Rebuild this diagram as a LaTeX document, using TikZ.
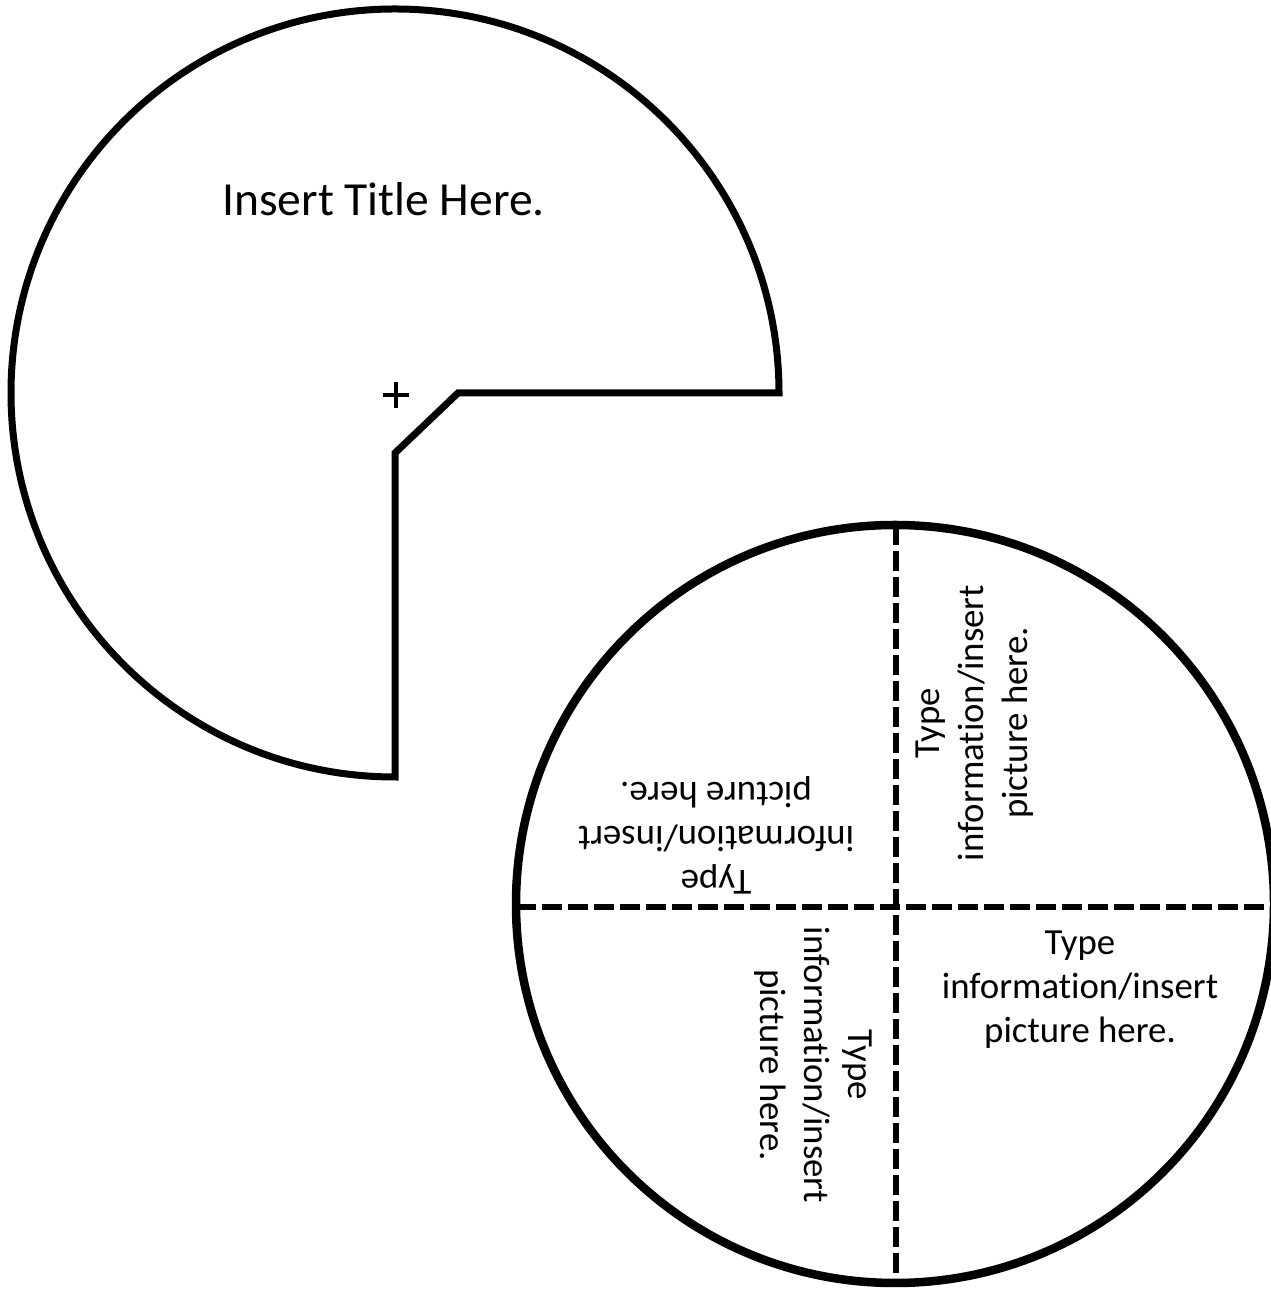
\documentclass[tikz,border=0pt]{standalone}
\usepackage{fontspec}
\setmainfont[Ligatures={NoCommon,NoRare,NoContextual},RawFeature={-liga;-dlig;-clig}]{Carlito}
\begin{document}
\begin{tikzpicture}[x=1pt,y=1pt,
  outline/.style={line width=7pt, line join=miter},
  disc/.style={line width=8.5pt},
  divider/.style={line width=6.5pt, dash pattern=on 20pt off 6pt},
  info/.style={align=center, font=\fontsize{36.8}{44}\selectfont, inner sep=0pt},
  titletext/.style={font=\fontsize{47.5}{56}\selectfont, inner sep=0pt},
  pin/.style={line width=3.5pt}]
\useasboundingbox (0,0) rectangle (1270,1292);
% top pac-man shape
\coordinate (pc) at (395,899);
\coordinate (notch) at (458,899);
\coordinate (corner) at (395,839);
\draw[outline] (notch) -- (779,899) arc[start angle=0,end angle=270,radius=384] -- (corner) -- cycle;
\draw[pin] (383,897) -- (409,897) (396,884) -- (396,910);
\node[titletext, anchor=base] (title) at (383.5,1076) {Insert Title Here.};
% bottom wheel
\coordinate (wc) at (895,388);
\draw[disc] (wc) circle[radius=379];
\coordinate (vtop) at (896,767);
\coordinate (vbot) at (896,9);
\coordinate (hleft) at (516,385);
\coordinate (hright) at (1276,385);
\draw[divider] (vtop) -- (vbot);
\draw[divider] (hleft) -- (hright);
\node[info] (q1) at (1080,302) {Type\\information/insert\\picture here.};
\node[info, rotate=90] (q2) at (975,569) {Type\\information/insert\\picture here.};
\node[info, rotate=180] (q3) at (716,457) {Type\\information/insert\\picture here.};
\node[info, rotate=270] (q4) at (813,227) {Type\\information/insert\\picture here.};
\end{tikzpicture}
\end{document}
